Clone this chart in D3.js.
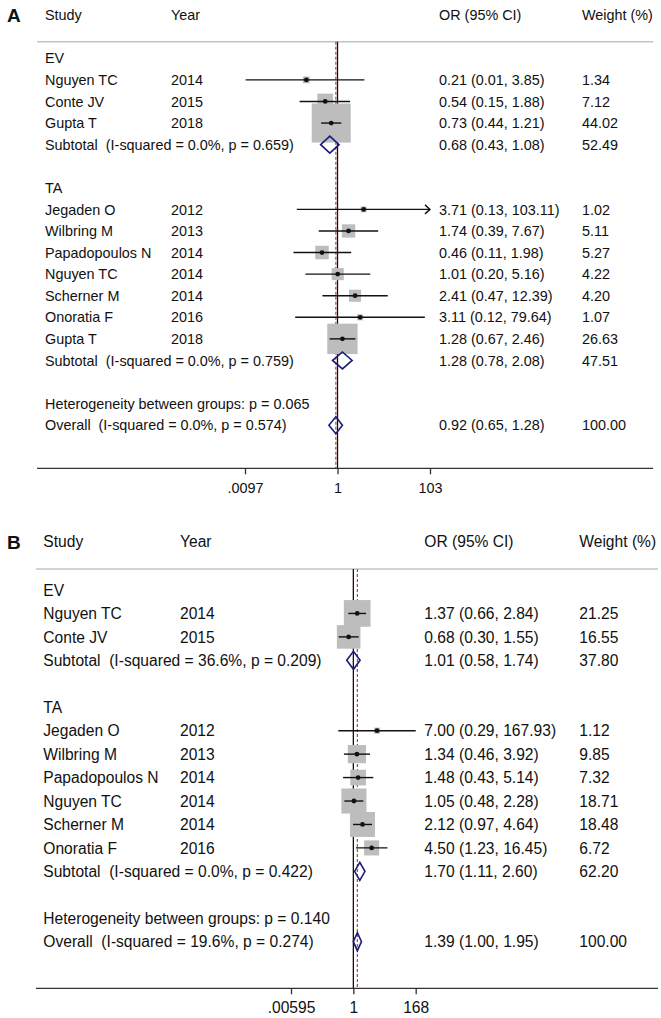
<!DOCTYPE html>
<html><head><meta charset="utf-8">
<script src="https://cdn.jsdelivr.net/npm/d3@7"></script>
<style>
html,body{margin:0;padding:0;background:#fff;}
svg text{font-family:Arial,"Liberation Sans",sans-serif;fill:#111;white-space:pre;}
</style></head>
<body>
<svg id="chart" width="661" height="1018"></svg>
<script>
// ---------- Panel A data ----------
const labelsA = ["EV","Nguyen TC","Conte JV","Gupta T","Subtotal  (I-squared = 0.0%, p = 0.659)","",
  "TA","Jegaden O","Wilbring M","Papadopoulos N","Nguyen TC","Scherner M","Onoratia F","Gupta T",
  "Subtotal  (I-squared = 0.0%, p = 0.759)","","Heterogeneity between groups: p = 0.065",
  "Overall  (I-squared = 0.0%, p = 0.574)"];
const kindsA = ["group","study","study","study","sub","blank","group","study","study","study","study","study","study","study","sub","blank","het","overall"];
const yearsA = ["","2014","2015","2018","","","","2012","2013","2014","2014","2014","2016","2018","","","",""];
const orA  = [null,0.21,0.54,0.73,0.68,null,null,3.71,1.74,0.46,1.01,2.41,3.11,1.28,1.28,null,null,0.92];
const loA  = [null,0.01,0.15,0.44,0.43,null,null,0.13,0.39,0.11,0.20,0.47,0.12,0.67,0.78,null,null,0.65];
const hiA  = [null,3.85,1.88,1.21,1.08,null,null,103.11,7.67,1.98,5.16,12.39,79.64,2.46,2.08,null,null,1.28];
const wA   = [null,1.34,7.12,44.02,52.49,null,null,1.02,5.11,5.27,4.22,4.20,1.07,26.63,47.51,null,null,100.00];
const ticksA = [0.0097, 1, 103];
const tickLabelsA = [".0097","1","103"];

// ---------- Panel B data ----------
const labelsB = ["EV","Nguyen TC","Conte JV","Subtotal  (I-squared = 36.6%, p = 0.209)","",
  "TA","Jegaden O","Wilbring M","Papadopoulos N","Nguyen TC","Scherner M","Onoratia F",
  "Subtotal  (I-squared = 0.0%, p = 0.422)","","Heterogeneity between groups: p = 0.140",
  "Overall  (I-squared = 19.6%, p = 0.274)"];
const kindsB = ["group","study","study","sub","blank","group","study","study","study","study","study","study","sub","blank","het","overall"];
const yearsB = ["","2014","2015","","","","2012","2013","2014","2014","2014","2016","","","",""];
const orB  = [null,1.37,0.68,1.01,null,null,7.00,1.34,1.48,1.05,2.12,4.50,1.70,null,null,1.39];
const loB  = [null,0.66,0.30,0.58,null,null,0.29,0.46,0.43,0.48,0.97,1.23,1.11,null,null,1.00];
const hiB  = [null,2.84,1.55,1.74,null,null,167.93,3.92,5.14,2.28,4.64,16.45,2.60,null,null,1.95];
const wB   = [null,21.25,16.55,37.80,null,null,1.12,9.85,7.32,18.71,18.48,6.72,62.20,null,null,100.00];
const ticksB = [0.00595, 1, 168];
const tickLabelsB = [".00595","1","168"];

const headers = ["Study","Year","OR (95% CI)","Weight (%)"];

const svg = d3.select("#chart");

function drawPanel(cfg) {
  const g = svg.append("g");
  const n = cfg.labels.length;
  const x = d3.scaleLog().domain([cfg.ticks[0], cfg.ticks[2]]).range(cfg.xRange);
  const y = d3.scaleLinear().domain([0, n - 1]).range(cfg.yRange);
  const fs = cfg.fontSize;
  const dy = "0.36em";

  g.append("text").attr("x", cfg.letterX).attr("y", cfg.headerY).attr("dy", dy)
    .attr("font-size", 19).attr("font-weight", "bold").text(cfg.letter);

  const hx = [cfg.colStudy, cfg.colYear, cfg.colOR, cfg.colW];
  headers.forEach((h, i) => {
    g.append("text").attr("x", hx[i]).attr("y", cfg.headerY).attr("dy", dy)
      .attr("font-size", fs).text(h);
  });
  g.append("line").attr("x1", cfg.lineX[0]).attr("x2", cfg.lineX[1])
    .attr("y1", cfg.ruleY).attr("y2", cfg.ruleY).attr("stroke", "#c4c4c4").attr("stroke-width", 1.5);

  g.append("line").attr("x1", x(1)).attr("x2", x(1))
    .attr("y1", cfg.ruleY).attr("y2", cfg.axisY).attr("stroke", "#111").attr("stroke-width", 1.3);
  const ovIdx = cfg.kinds.indexOf("overall");
  const ovX = x(cfg.or[ovIdx]);
  g.append("line").attr("x1", ovX).attr("x2", ovX)
    .attr("y1", cfg.ruleY).attr("y2", cfg.axisY).attr("stroke", "#b04848")
    .attr("stroke-width", 1.2).attr("stroke-dasharray", "3,2");

  g.append("line").attr("x1", cfg.lineX[0]).attr("x2", cfg.lineX[1])
    .attr("y1", cfg.axisY).attr("y2", cfg.axisY).attr("stroke", "#333").attr("stroke-width", 1.3);
  const axis = d3.axisBottom(x).tickValues(cfg.ticks)
    .tickFormat((d, i) => cfg.tickLabels[i]).tickSize(6).tickPadding(8);
  const ax = g.append("g").attr("transform", `translate(0,${cfg.axisY})`).call(axis);
  ax.select(".domain").remove();
  ax.selectAll(".tick line").attr("stroke", "#333").attr("stroke-width", 1.3);
  ax.selectAll(".tick text").attr("font-size", fs).attr("fill", "#111")
    .style("font-family", "Arial, 'Liberation Sans', sans-serif");

  const rows = d3.range(n).map(i => ({
    i, label: cfg.labels[i], kind: cfg.kinds[i], year: cfg.years[i],
    or: cfg.or[i], lo: cfg.lo[i], hi: cfg.hi[i], w: cfg.w[i]
  }));
  const studies = rows.filter(r => r.kind === "study");
  const pooled = rows.filter(r => r.kind === "sub" || r.kind === "overall");
  const [dMin, dMax] = x.domain();

  g.selectAll(".box").data(studies).enter().append("rect")
    .attr("x", d => x(d.or) - cfg.boxK * Math.sqrt(d.w) / 2)
    .attr("y", d => y(d.i) - cfg.boxK * Math.sqrt(d.w) / 2)
    .attr("width", d => cfg.boxK * Math.sqrt(d.w))
    .attr("height", d => cfg.boxK * Math.sqrt(d.w))
    .attr("fill", "#bdbdbd");

  g.selectAll(".ci").data(studies).enter().append("line")
    .attr("x1", d => x(Math.max(d.lo, dMin))).attr("x2", d => x(Math.min(d.hi, dMax)))
    .attr("y1", d => y(d.i)).attr("y2", d => y(d.i))
    .attr("stroke", "#111").attr("stroke-width", 1.4);
  g.selectAll(".arr").data(studies.filter(d => d.hi > dMax)).enter().append("path")
    .attr("d", d => { const xe = x(dMax), yy = y(d.i); return `M${xe-5},${yy-4.5}L${xe},${yy}L${xe-5},${yy+4.5}`; })
    .attr("fill", "none").attr("stroke", "#111").attr("stroke-width", 1.4);
  g.selectAll(".dot").data(studies).enter().append("circle")
    .attr("cx", d => x(d.or)).attr("cy", d => y(d.i)).attr("r", 2.4).attr("fill", "#111");

  g.selectAll(".dia").data(pooled).enter().append("path")
    .attr("d", d => {
      const yy = y(d.i), h = cfg.diaH;
      return `M${x(d.lo)},${yy}L${x(d.or)},${yy-h}L${x(d.hi)},${yy}L${x(d.or)},${yy+h}Z`;
    })
    .attr("fill", "none").attr("stroke", "#1c1c7a").attr("stroke-width", 1.6);

  g.selectAll(".lab").data(rows.filter(r => r.label)).enter().append("text")
    .attr("x", cfg.colStudy).attr("y", d => y(d.i)).attr("dy", dy)
    .attr("font-size", fs).text(d => d.label);
  g.selectAll(".yr").data(rows.filter(r => r.year)).enter().append("text")
    .attr("x", cfg.colYear).attr("y", d => y(d.i)).attr("dy", dy)
    .attr("font-size", fs).text(d => d.year);
  const f2 = d3.format(".2f");
  g.selectAll(".ort").data(rows.filter(r => r.or != null)).enter().append("text")
    .attr("x", cfg.colOR).attr("y", d => y(d.i)).attr("dy", dy)
    .attr("font-size", fs).text(d => `${f2(d.or)} (${f2(d.lo)}, ${f2(d.hi)})`);
  g.selectAll(".wt").data(rows.filter(r => r.w != null)).enter().append("text")
    .attr("x", cfg.colW).attr("y", d => y(d.i)).attr("dy", dy)
    .attr("font-size", fs).text(d => f2(d.w));
}

drawPanel({
  letter: "A", labels: labelsA, kinds: kindsA, years: yearsA, or: orA, lo: loA, hi: hiA, w: wA,
  ticks: ticksA, tickLabels: tickLabelsA,
  xRange: [245, 430], yRange: [58.3, 425.2], fontSize: 14.4,
  letterX: 7, headerY: 15, ruleY: 41.7, axisY: 468.3, lineX: [37, 653],
  colStudy: 45, colYear: 171, colOR: 439, colW: 582, boxK: 5.88, diaH: 8.5
});
drawPanel({
  letter: "B", labels: labelsB, kinds: kindsB, years: yearsB, or: orB, lo: loB, hi: hiB, w: wB,
  ticks: ticksB, tickLabels: tickLabelsB,
  xRange: [291, 415.7], yRange: [590, 941.7], fontSize: 15.6,
  letterX: 7, headerY: 541.7, ruleY: 569, axisY: 988.3, lineX: [36, 658],
  colStudy: 43.3, colYear: 180, colOR: 424.3, colW: 579.3, boxK: 5.8, diaH: 9
});
</script>
</body></html>
